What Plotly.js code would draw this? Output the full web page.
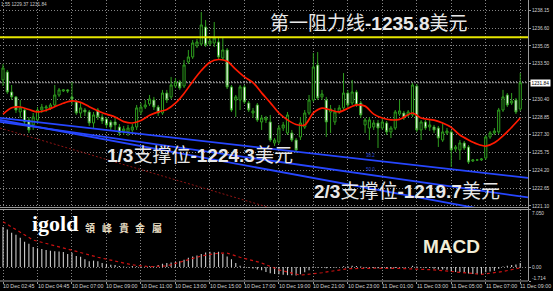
<!DOCTYPE html>
<html>
<head>
<meta charset="utf-8">
<script src="https://cdn.plot.ly/plotly-3.0.1.min.js"></script>
<style>
html,body{margin:0;padding:0;background:#000;overflow:hidden}
#chart{width:553px;height:291px}
</style>
</head>
<body>
<div id="chart"></div>
<script>
// Gold 15-minute bars, 10 Dec 02:45 - 11 Dec 09:00
const open = [1232.08,1232.77,1231.03,1230.60,1229.29,1229.46,1228.59,1228.16,1228.59,1229.46,
1229.64,1229.64,1229.90,1230.77,1231.12,1231.21,1230.60,1230.16,1229.20,1229.46,
1229.29,1228.33,1229.46,1228.85,1228.68,1228.42,1228.42,1227.98,1227.63,1227.55,
1227.72,1227.98,1229.29,1229.72,1229.99,1230.33,1229.72,1229.20,1230.94,1230.60,
1231.55,1231.90,1231.55,1233.64,1234.08,1235.04,1235.21,1236.69,1235.21,1235.30,
1235.39,1233.99,1234.69,1231.47,1230.33,1230.33,1231.47,1230.07,1229.20,1229.90,
1228.42,1228.59,1228.42,1226.59,1226.68,1227.89,1227.46,1227.46,1226.85,1227.11,
1227.98,1229.20,1230.33,1233.38,1230.60,1230.33,1229.29,1228.42,1229.29,1229.64,
1230.94,1230.07,1231.03,1230.07,1228.16,1227.89,1227.98,1228.33,1227.89,1228.33,
1227.55,1227.89,1229.11,1229.20,1229.03,1229.03,1231.55,1227.72,1228.42,1227.98,
1227.98,1227.89,1226.85,1227.46,1227.55,1226.07,1225.98,1226.59,1226.24,1225.02,
1225.11,1225.11,1225.28,1227.11,1227.46,1227.55,1229.46,1230.77,1230.07,1230.33,
1229.55];

const high = [1233.47,1232.95,1231.64,1230.68,1230.33,1229.64,1228.85,1229.20,1229.72,1229.99,
1229.90,1230.07,1231.64,1231.38,1231.29,1231.29,1231.90,1230.33,1230.07,1229.64,
1229.46,1229.29,1229.64,1229.11,1228.85,1228.59,1228.77,1228.24,1228.07,1228.16,
1228.24,1229.90,1230.07,1230.33,1230.77,1230.60,1229.90,1231.21,1231.21,1232.34,
1232.25,1232.08,1233.82,1234.69,1235.56,1235.65,1238.00,1237.30,1235.73,1237.13,
1235.73,1235.82,1234.86,1231.64,1230.77,1231.64,1231.64,1230.25,1229.64,1230.07,
1229.03,1228.94,1229.03,1227.02,1228.16,1228.42,1229.29,1227.72,1227.02,1228.85,
1229.46,1230.77,1234.43,1234.51,1231.21,1230.60,1229.90,1229.64,1229.90,1232.68,
1231.21,1232.08,1231.21,1230.25,1228.77,1228.85,1228.59,1228.59,1228.85,1228.51,
1228.07,1229.46,1230.33,1229.38,1229.46,1231.82,1231.73,1228.59,1228.59,1228.59,
1228.16,1228.07,1228.33,1227.89,1227.72,1226.41,1226.85,1226.76,1226.41,1225.19,
1225.19,1225.28,1227.28,1227.63,1227.89,1229.64,1231.21,1230.94,1230.94,1230.51,
1232.68];

const low = [1231.55,1230.86,1230.33,1229.20,1228.77,1228.24,1227.46,1227.72,1228.24,1229.20,
1229.29,1229.46,1229.72,1230.60,1231.03,1230.94,1229.90,1229.03,1228.77,1228.94,
1228.07,1227.89,1228.59,1228.24,1227.89,1227.72,1227.72,1227.20,1227.28,1227.20,
1227.46,1227.72,1229.03,1229.55,1229.81,1229.46,1228.94,1229.03,1230.07,1230.42,
1231.38,1231.21,1231.38,1233.47,1233.91,1234.86,1235.04,1234.95,1235.04,1234.95,
1233.91,1233.82,1231.29,1229.29,1228.85,1229.46,1229.99,1229.29,1228.77,1228.42,
1227.72,1228.33,1226.68,1226.33,1226.50,1227.63,1227.28,1226.68,1225.72,1226.85,
1227.81,1229.03,1230.16,1230.33,1230.33,1227.11,1227.46,1228.16,1229.11,1229.46,
1229.64,1229.90,1229.72,1228.77,1227.46,1226.85,1227.72,1226.15,1227.72,1227.28,
1227.02,1227.72,1228.94,1228.59,1228.85,1228.85,1227.55,1226.85,1227.72,1227.63,
1227.46,1226.24,1226.68,1227.28,1224.50,1225.81,1225.11,1225.98,1224.76,1224.93,
1225.02,1225.02,1225.11,1226.94,1227.28,1227.37,1229.29,1229.72,1229.90,1229.11,
1229.37];

const close = [1233.12,1231.03,1230.60,1229.46,1229.64,1228.42,1227.72,1228.85,1229.46,1229.72,
1229.72,1229.90,1230.77,1231.21,1231.21,1231.12,1230.42,1229.20,1229.64,1229.29,
1228.33,1229.03,1228.85,1228.51,1228.16,1227.98,1228.16,1227.46,1227.81,1227.89,
1227.98,1229.64,1229.72,1229.90,1230.42,1229.72,1229.20,1230.94,1230.33,1231.64,
1231.90,1231.38,1233.38,1234.08,1235.30,1235.39,1236.87,1235.12,1235.47,1235.73,
1234.08,1234.69,1231.47,1229.46,1230.60,1231.47,1230.16,1229.46,1229.38,1228.59,
1228.77,1228.77,1226.85,1226.85,1227.89,1228.16,1229.03,1226.85,1225.98,1228.33,
1229.20,1230.33,1233.21,1230.51,1230.86,1228.42,1229.55,1229.29,1229.64,1230.94,
1229.90,1231.03,1229.90,1229.03,1228.59,1228.59,1228.33,1227.89,1228.42,1227.55,
1227.89,1229.29,1229.38,1228.77,1229.29,1231.64,1227.72,1228.42,1227.89,1228.16,
1227.72,1227.02,1227.55,1227.63,1225.98,1226.24,1226.59,1226.15,1224.93,1225.11,
1225.11,1225.19,1227.11,1227.46,1227.63,1229.46,1230.60,1229.90,1230.25,1229.29,
1231.84];

// moving average overlay (bar index -> price)
const maBar = [0,2,4,6,8,10,12,14,16,18,20,22,24,26,28,30,32,34,36,38,40,42,44,46,48,50,52,54,56,58,60,62,64,66,68,70,72,74,76,78,80,82,84,86,88,90,92,95,97,100,102,104,106,108,110,112,114,116,118,120];
const maValue = [1229.10,1229.65,1229.72,1229.50,1229.29,1229.44,1229.75,1230.05,1230.25,1230.12,
1229.75,1229.38,1229.10,1228.85,1228.45,1228.33,1228.55,1229.00,1229.30,1229.50,
1230.05,1230.90,1231.95,1232.90,1233.62,1233.86,1233.70,1233.00,1232.35,1231.85,
1230.95,1230.10,1229.20,1228.60,1228.20,1228.15,1229.20,1229.63,1229.46,1229.29,
1229.60,1229.90,1229.80,1229.10,1228.76,1228.60,1228.65,1229.20,1228.76,1228.58,
1228.33,1227.95,1227.28,1226.85,1226.50,1226.32,1226.60,1227.20,1227.95,1228.76];

// MACD main line (drawn as histogram), one value per bar
const macdMain = [4.9,4.6,4.2,3.95,3.6,3.1,2.85,2.45,2.3,2.2,
2.1,2.0,1.92,1.9,1.85,1.6,1.75,1.35,1.25,0.95,
0.7,0.78,0.7,0.5,0.4,0.28,0.25,0.13,0.05,0.04,
0.12,0.1,0.06,0.05,0.08,0.1,0.25,0.4,0.48,0.55,
0.6,0.7,0.9,1.15,1.3,1.4,1.6,1.78,1.88,1.8,
1.88,1.6,1.3,0.95,0.5,0.15,0.05,-0.1,-0.18,-0.3,
-0.4,-0.6,-0.75,-0.85,-0.9,-0.95,-1.0,-1.0,-1.05,-0.9,
-0.65,-0.4,0.05,-0.05,-0.05,-0.15,-0.1,-0.05,0.0,0.1,
0.1,0.15,0.12,0.05,-0.05,-0.1,-0.12,-0.15,-0.15,-0.18,
-0.2,-0.12,-0.05,-0.05,0.0,0.15,0.05,-0.05,-0.1,-0.12,
-0.2,-0.3,-0.3,-0.35,-0.55,-0.6,-0.6,-0.65,-0.8,-0.85,
-0.85,-0.85,-0.65,-0.55,-0.45,-0.2,0.05,0.15,0.25,0.3,
0.5];

// MACD signal line
const signalBar = [0,7,15,22,30,34,38,42,46,50,52,55,60,64,69,74,80,86,92,100,106,111,116,120];
const signalValue = [5.55,3.3,2.2,1.2,0.26,0.04,0.13,0.7,1.35,1.7,1.7,1.2,0.5,-0.35,-1.0,-0.7,-0.2,-0.15,-0.17,-0.35,-0.6,-0.9,-0.55,-0.1];

// time axis labels
const timeTickBar = [0,8,16,24,32,40,48,56,64,72,80,88,96,104,112,120];
const timeTickText = ['10 Dec 02:45','10 Dec 04:45','10 Dec 07:00','10 Dec 09:00','10 Dec 11:00','10 Dec 13:00',
'10 Dec 15:00','10 Dec 17:00','10 Dec 19:00','10 Dec 21:00','10 Dec 23:00','11 Dec 01:00',
'11 Dec 03:00','11 Dec 05:00','11 Dec 07:00','11 Dec 09:00'];

// price scale
const priceTicks = [1238.15,1236.60,1235.05,1233.50,1231.95,1230.40,1228.85,1227.30,1225.75,1224.20,1222.65,1221.10];
const macdTicks = [7.05, 0, -1.714];
const macdTickText = ['7.050','0.00','-1.714'];

const lastPrice = 1231.84;
const headerText = '1.55 1229.37 1231.84';
const resistanceLevel = 1235.8;

// support fan lines (bar index / price at both ends)
const fanStartBar = [-0.7, -0.7, -0.7];
const fanStartPrice = [1228.77, 1228.42, 1228.59];
const fanEndBar = [121.8, 121.8, 121.8];
const fanEndPrice = [1223.54, 1221.84, 1220.08];
const fanLevelText = ['38.2', '50.0'];
const fanLevelBar = [85.2, 85.2];
const fanLevelPrice = [1225.54, 1224.32];

// lower dotted channel line
const channelBar = [-0.7, 121.8];
const channelPrice = [1227.89, 1214.31];

const noteText = ['第一阻力线<b>-1235.8</b>美元', '<b>1/3</b>支撑位<b>-1224.3</b>美元', '<b>2/3</b>支撑位<b>-1219.7</b>美元'];
const brandChars = ['領', '峰', '貴', '金', '屬'];

// ---- layout helpers (pixel -> paper) ----
const W = 553, H = 291;
const px = v => v / W;
const py = v => 1 - v / H;
const plotRight = 528;

const bars = open.map((_, i) => i);
const gridColor = '#858585';
const gridDash = '1px,2px';
const axisFont = {family: 'Liberation Sans, Arial, sans-serif', size: 4.8, color: '#d2d2d2'};
const noteFont = {family: 'Liberation Sans, Noto Sans CJK SC, sans-serif', size: 19, color: '#e8e8e8'};

const traces = [
  {
    type: 'candlestick', x: bars, open: open, high: high, low: low, close: close,
    xaxis: 'x', yaxis: 'y', whiskerwidth: 0, hoverinfo: 'none',
    increasing: {line: {color: '#2e9e1e', width: 1}, fillcolor: '#000000'},
    decreasing: {line: {color: '#2e9e1e', width: 1}, fillcolor: '#ffffff'}
  },
  {
    type: 'scatter', mode: 'lines', x: maBar, y: maValue, xaxis: 'x', yaxis: 'y',
    line: {color: '#ff1a00', width: 1.7, shape: 'spline', smoothing: 0.8}, hoverinfo: 'none'
  },
  {
    type: 'bar', x: bars, y: macdMain, xaxis: 'x2', yaxis: 'y2', width: 0.26,
    marker: {color: '#c8c8c8', line: {width: 0}}, hoverinfo: 'none'
  },
  {
    type: 'scatter', mode: 'lines', x: signalBar, y: signalValue, xaxis: 'x2', yaxis: 'y2',
    line: {color: '#cc1111', width: 1.2, dash: 'dot'}, hoverinfo: 'none'
  }
];

const shapes = [];
// resistance
shapes.push({type: 'line', xref: 'paper', yref: 'y', x0: 0, x1: px(plotRight), y0: resistanceLevel, y1: resistanceLevel,
  line: {color: '#e6e600', width: 2}});
// bid line
shapes.push({type: 'line', xref: 'paper', yref: 'y', x0: 0, x1: px(plotRight), y0: lastPrice, y1: lastPrice,
  line: {color: '#9a9a9a', width: 1, dash: '2px,1px'}, layer: 'below'});
// fan
fanStartBar.forEach((b, k) => shapes.push({type: 'line', xref: 'x', yref: 'y',
  x0: b, y0: fanStartPrice[k], x1: fanEndBar[k], y1: fanEndPrice[k],
  line: {color: '#2646ff', width: 1.8}}));
// dotted channel
shapes.push({type: 'line', xref: 'x', yref: 'y', x0: channelBar[0], y0: channelPrice[0], x1: channelBar[1], y1: channelPrice[1],
  line: {color: '#8e1414', width: 1, dash: '2px,2px'}});
// frame lines
const frame = {color: '#9a9a9a', width: 1};
shapes.push({type: 'line', xref: 'paper', yref: 'paper', x0: px(plotRight + 0.5), x1: px(plotRight + 0.5), y0: py(0), y1: py(281), line: frame});
shapes.push({type: 'line', xref: 'paper', yref: 'paper', x0: 0, x1: px(plotRight), y0: py(207.5), y1: py(207.5), line: frame});
shapes.push({type: 'line', xref: 'paper', yref: 'paper', x0: 0, x1: px(plotRight), y0: py(209.5), y1: py(209.5), line: frame});
shapes.push({type: 'line', xref: 'paper', yref: 'paper', x0: 0, x1: px(plotRight), y0: py(281), y1: py(281), line: frame});

const annotations = [];
// time labels, left-aligned at each grid line
timeTickBar.forEach((b, k) => annotations.push({
  xref: 'x2', yref: 'paper', x: b, y: py(286), text: timeTickText[k], showarrow: false,
  xanchor: 'left', yanchor: 'middle', xshift: -1, borderpad: 0,
  font: {family: 'Liberation Sans, Arial, sans-serif', size: 5.3, color: '#d2d2d2'}
}));
// MACD scale labels
[[213, 0], [267, 1], [278, 2]].forEach(([y, k]) => annotations.push({
  xref: 'paper', yref: 'paper', x: px(531), y: py(y), text: macdTickText[k], showarrow: false,
  xanchor: 'left', yanchor: 'middle', borderpad: 0, font: axisFont
}));
// last price box
annotations.push({xref: 'paper', yref: 'y', x: px(530), y: lastPrice, text: lastPrice.toFixed(2), showarrow: false,
  xanchor: 'left', yanchor: 'middle', bgcolor: '#ffffff', borderpad: 0.5,
  font: {family: 'Liberation Sans, Arial, sans-serif', size: 4.8, color: '#000000'}});
// header
annotations.push({xref: 'paper', yref: 'paper', x: 0, y: py(4.5), text: headerText, showarrow: false,
  xanchor: 'left', yanchor: 'middle', borderpad: 0,
  font: {family: 'Liberation Sans, Arial, sans-serif', size: 4.7, color: '#c8c8c8'}});
// notes
[[269, 23.5], [106, 155], [313, 191]].forEach(([x, y], k) => annotations.push({
  xref: 'paper', yref: 'paper', x: px(x), y: py(y), text: noteText[k], showarrow: false,
  xanchor: 'left', yanchor: 'middle', borderpad: 0, font: noteFont
}));
// fan level tags
fanLevelText.forEach((t, k) => annotations.push({
  xref: 'x', yref: 'y', x: fanLevelBar[k], y: fanLevelPrice[k], text: t, showarrow: false,
  xanchor: 'center', yanchor: 'middle', borderpad: 0,
  font: {family: 'Liberation Sans, Arial, sans-serif', size: 4.5, color: '#2d4ddc'}
}));
// MACD caption
annotations.push({xref: 'paper', yref: 'paper', x: px(422), y: py(246), text: '<b>MACD</b>', showarrow: false,
  xanchor: 'left', yanchor: 'middle', borderpad: 0,
  font: {family: 'Liberation Sans, Arial, sans-serif', size: 19, color: '#f2edd6'}});
// brand
annotations.push({xref: 'paper', yref: 'paper', x: px(31), y: py(223), text: '<b>igold</b>', showarrow: false,
  xanchor: 'left', yanchor: 'middle', borderpad: 0,
  font: {family: 'Liberation Serif, Times New Roman, serif', size: 22, color: '#ffffff'}});
brandChars.forEach((c, k) => annotations.push({
  xref: 'paper', yref: 'paper', x: px(90 + k * 16.8), y: py(227.5), text: '<b>' + c + '</b>', showarrow: false,
  xanchor: 'center', yanchor: 'middle', borderpad: 0,
  font: {family: 'Noto Sans CJK TC, sans-serif', size: 10, color: '#e9dfc4'}
}));

const layout = {
  width: W, height: H,
  margin: {l: 0, r: 0, t: 0, b: 0, pad: 0},
  paper_bgcolor: '#000000', plot_bgcolor: '#000000',
  showlegend: false, dragmode: false,
  xaxis: {
    domain: [0, px(plotRight)], range: [-0.7, 121.8], anchor: 'y',
    tickmode: 'array', tickvals: timeTickBar, showticklabels: false, ticks: '',
    showgrid: true, gridcolor: gridColor, griddash: gridDash, gridwidth: 1,
    zeroline: false, showline: false, rangeslider: {visible: false}, fixedrange: true
  },
  xaxis2: {
    domain: [0, px(plotRight)], range: [-0.7, 121.8], anchor: 'y2',
    tickmode: 'array', tickvals: timeTickBar, showticklabels: false,
    ticks: 'outside', ticklen: 2, tickcolor: '#9a9a9a', tickwidth: 1,
    showgrid: true, gridcolor: gridColor, griddash: gridDash, gridwidth: 1,
    zeroline: false, showline: false, fixedrange: true
  },
  yaxis: {
    domain: [py(207), 1], range: [1221.01, 1239.044], anchor: 'x', side: 'right',
    tickmode: 'array', tickvals: priceTicks,
    ticktext: priceTicks.map(v => Math.abs(v - lastPrice) < 0.5 ? '' : v.toFixed(2)),
    ticks: 'outside', ticklen: 2, tickcolor: '#9a9a9a', tickwidth: 1, tickfont: axisFont,
    showgrid: true, gridcolor: gridColor, griddash: gridDash, gridwidth: 1,
    zeroline: false, showline: false, fixedrange: true
  },
  yaxis2: {
    domain: [py(281), py(209.5)], range: [-1.714, 7.05], anchor: 'x2', side: 'right',
    tickmode: 'array', tickvals: macdTicks, showticklabels: false,
    ticks: 'outside', ticklen: 2, tickcolor: '#9a9a9a', tickwidth: 1,
    showgrid: true, gridcolor: gridColor, griddash: gridDash, gridwidth: 1,
    zeroline: false, showline: false, fixedrange: true
  },
  shapes: shapes,
  annotations: annotations
};

Plotly.newPlot('chart', traces, layout, {staticPlot: true, displayModeBar: false});
</script>
</body>
</html>
